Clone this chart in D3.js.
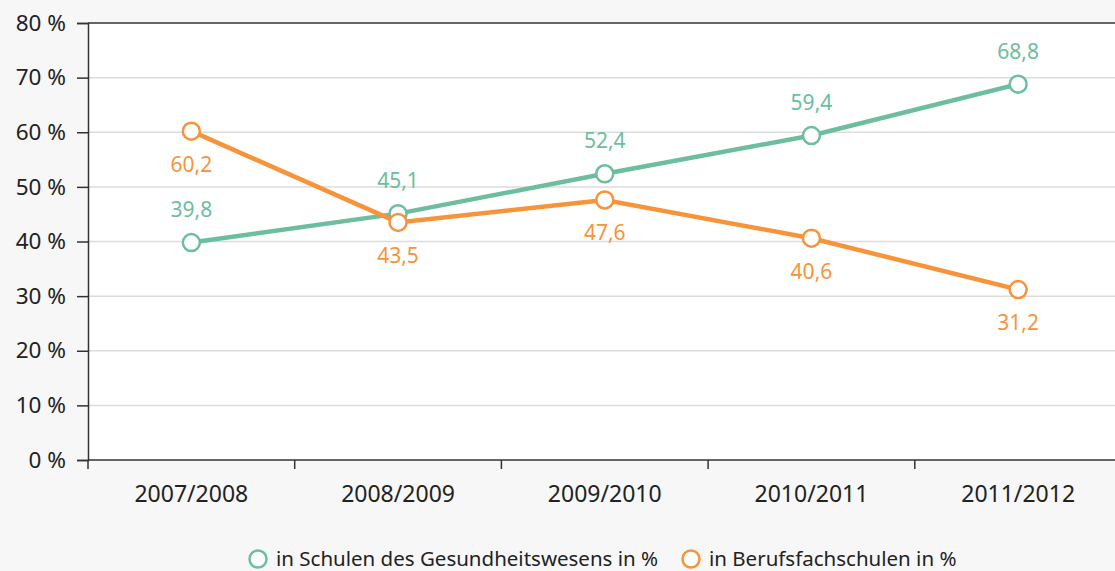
<!DOCTYPE html>
<html>
<head>
<meta charset="utf-8">
<script src="https://cdn.jsdelivr.net/npm/d3@7"></script>
<style>
  body { margin: 0; background: #f7f7f7; }
  svg { display: block; font-family: "Noto Sans", sans-serif; }
</style>
</head>
<body>
<div id="chart"></div>
<script>
// Chart data
const years = ["2007/2008", "2008/2009", "2009/2010", "2010/2011", "2011/2012"];
const gesundheit = [39.8, 45.1, 52.4, 59.4, 68.8];
const berufsfach = [60.2, 43.5, 47.6, 40.6, 31.2];
const yTicks = [0, 10, 20, 30, 40, 50, 60, 70, 80];
const seriesNames = ["in Schulen des Gesundheitswesens in %", "in Berufsfachschulen in %"];

const green = "#6cbe9e", orange = "#f7943a";

const W = 1115, H = 571;
const plotLeft = 88, plotTop = 23, plotBottom = 460;

const svg = d3.select("#chart").append("svg")
    .attr("width", W)
    .attr("height", H);

// plot background
svg.append("rect")
    .attr("x", plotLeft).attr("y", plotTop)
    .attr("width", W - plotLeft).attr("height", plotBottom - plotTop)
    .attr("fill", "#fff");

const x = d3.scaleBand().domain(years).range([plotLeft, plotLeft + 5 * 206.7]);
const y = d3.scaleLinear().domain([0, 80]).range([plotBottom, plotTop]);

// gridlines
svg.append("g").selectAll("line")
    .data(yTicks.filter(d => d > 0 && d < 80))
  .enter().append("line")
    .attr("x1", plotLeft).attr("x2", W)
    .attr("y1", d => y(d)).attr("y2", d => y(d))
    .attr("stroke", "#dcdcdc").attr("stroke-width", 1.5);

// top border
svg.append("line")
    .attr("x1", plotLeft).attr("x2", W)
    .attr("y1", y(80)).attr("y2", y(80))
    .attr("stroke", "#333").attr("stroke-width", 1.5);

// y axis
const yAxis = svg.append("g")
    .attr("transform", `translate(${plotLeft},0)`)
    .call(d3.axisLeft(y).tickValues(yTicks).tickSize(11).tickPadding(11).tickFormat(d => d + " %"));
yAxis.select(".domain").attr("stroke", "#333").attr("stroke-width", 1.5);
yAxis.selectAll(".tick line").attr("stroke", "#333").attr("stroke-width", 1.5);
yAxis.selectAll("text").attr("font-size", 22.5).attr("fill", "#222")
    .attr("font-family", "Noto Sans");

// x axis
const xAxis = svg.append("g")
    .attr("transform", `translate(0,${plotBottom})`)
    .call(d3.axisBottom(x).tickSize(0).tickPadding(26));
xAxis.select(".domain").remove();
xAxis.selectAll("text").attr("font-size", 23).attr("fill", "#222")
    .attr("font-family", "Noto Sans");
svg.append("line")
    .attr("x1", plotLeft).attr("x2", W)
    .attr("y1", plotBottom).attr("y2", plotBottom)
    .attr("stroke", "#333").attr("stroke-width", 1.5);
// band boundary ticks
svg.append("g").selectAll("line")
    .data(years)
  .enter().append("line")
    .attr("x1", d => x(d)).attr("x2", d => x(d))
    .attr("y1", plotBottom).attr("y2", plotBottom + 9)
    .attr("stroke", "#333").attr("stroke-width", 1.5);

const cx = d => x(d) + x.bandwidth() / 2;
const line = d3.line().x(d => cx(d.year)).y(d => y(d.v));

const series = [
  {name: seriesNames[0], color: green, values: gesundheit, dy: -33},
  {name: seriesNames[1], color: orange, values: berufsfach, dy: 33}
];

series.forEach(s => {
  const pts = years.map((yr, i) => ({year: yr, v: s.values[i]}));
  svg.append("path")
      .datum(pts)
      .attr("d", line)
      .attr("fill", "none")
      .attr("stroke", s.color)
      .attr("stroke-width", 4.5);
});

series.forEach(s => {
  const pts = years.map((yr, i) => ({year: yr, v: s.values[i]}));
  svg.append("g").selectAll("circle")
      .data(pts)
    .enter().append("circle")
      .attr("cx", d => cx(d.year))
      .attr("cy", d => y(d.v))
      .attr("r", 8.5)
      .attr("fill", "#fff")
      .attr("stroke", s.color)
      .attr("stroke-width", 2.5);
  svg.append("g").selectAll("text")
      .data(pts)
    .enter().append("text")
      .attr("x", d => cx(d.year))
      .attr("y", d => y(d.v) + s.dy)
      .attr("dy", "0.35em")
      .attr("text-anchor", "middle")
      .attr("font-size", 21)
      .attr("fill", s.color)
      .text(d => d3.format(".1f")(d.v).replace(".", ","));
});

// legend
const legend = svg.append("g").attr("transform", "translate(0,559)");
const lx = [258, 691];
series.forEach((s, i) => {
  legend.append("circle")
      .attr("cx", lx[i]).attr("cy", 0).attr("r", 8.5)
      .attr("fill", "#fff").attr("stroke", s.color).attr("stroke-width", 2.5);
  legend.append("text")
      .attr("x", lx[i] + 18).attr("y", 0).attr("dy", "0.35em")
      .attr("font-size", 20.5).attr("fill", "#222")
      .text(s.name);
});
</script>
</body>
</html>
